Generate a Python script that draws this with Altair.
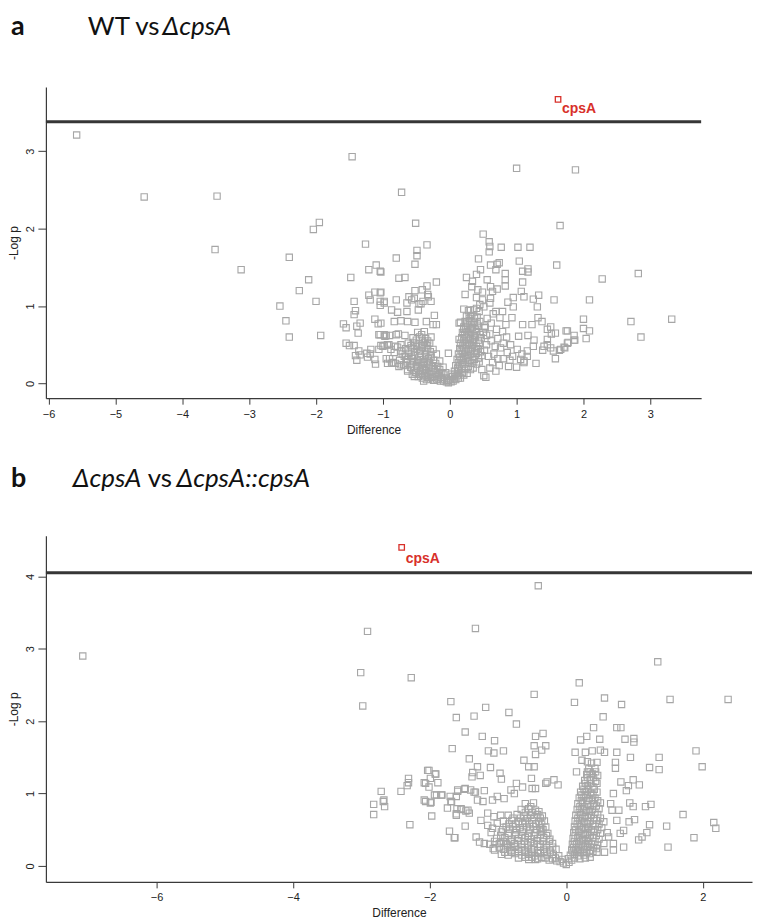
import altair as alt
import pandas as pd

# ---------------- data ----------------
THRESH_A = 3.38
THRESH_B = 4.05
cpsA_a = {"diff": [1.62], "logp": [3.67], "name": ["cpsA"]}
cpsA_b = {"diff": [-2.41], "logp": [4.40], "name": ["cpsA"]}

xticks_a = [-6, -5, -4, -3, -2, -1, 0, 1, 2, 3]
yticks_a = [0, 1, 2, 3]
xticks_b = [-6, -4, -2, 0, 2]
yticks_b = [0, 1, 2, 3, 4]

pts_a = [
    (-5.58, 3.21), (-4.57, 2.41), (-3.48, 2.42), (-3.51, 1.73), (-3.12, 1.47),
    (-1.46, 2.93), (-2.04, 1.99), (-1.95, 2.08), (-1.26, 1.80), (-2.40, 1.63), (-2.11, 1.34),
    (-2.25, 1.20), (-2.54, 1.00), (-2.00, 1.06), (-2.45, 0.81), (-2.40, 0.60), (-1.93, 0.62),
    (-1.48, 1.37), (-1.21, 1.47), (-1.10, 1.53), (-1.04, 1.45), (-1.12, 1.18), (-1.04, 1.17),
    (-1.21, 1.14), (-1.19, 1.08), (-1.43, 1.06), (-1.04, 1.06), (-0.98, 1.06), (-1.04, 1.01),
    (-1.41, 0.94), (-1.43, 0.89), (-1.59, 0.77), (-1.55, 0.72), (-1.39, 0.74), (-1.34, 0.78),
    (-1.12, 0.83), (-1.07, 0.77), (-1.37, 0.65), (-1.04, 0.63), (-0.95, 0.62), (-1.55, 0.52),
    (-1.50, 0.49), (-1.43, 0.49), (-0.98, 0.49), (-0.91, 0.50), (-1.24, 0.39), (-1.36, 0.42),
    (-1.34, 0.37), (-1.41, 0.36), (-1.12, 0.31), (-0.95, 0.32), (-0.90, 0.32), (-1.18, 0.44),
    (-1.19, 0.38), (-1.23, 0.34), (-1.39, 0.30), (-1.11, 0.25), (-1.06, 0.44), (-1.00, 0.48),
    (-0.93, 0.50), (-0.88, 0.44), (-0.83, 0.40), (-0.78, 0.47), (-0.73, 0.42), (-0.68, 0.35),
    (-0.63, 0.31), (-0.66, 0.23), (-0.58, 0.21), (-0.51, 0.14), (-0.43, 0.27), (-0.38, 0.18),
    (-0.31, 0.21), (-0.72, 2.47), (-0.51, 2.07), (-0.34, 1.79), (-0.49, 1.72), (-0.49, 1.65),
    (-0.80, 1.62), (-0.52, 1.54), (-0.76, 1.36), (-0.67, 1.37), (-0.20, 1.31), (-0.34, 1.26),
    (-0.41, 1.21), (-0.52, 1.20), (-0.33, 1.15), (-1.03, 1.44), (-0.80, 1.08), (-0.61, 1.12),
    (-0.53, 1.10), (-0.43, 1.03), (-0.28, 1.06), (-0.32, 1.12), (-0.57, 1.08), (-0.64, 1.04),
    (-0.46, 1.03), (-0.40, 1.06), (-0.87, 0.95), (-0.78, 0.92), (-0.64, 0.93), (-0.47, 0.95),
    (-0.23, 0.88), (-0.98, 1.04), (-1.03, 1.18), (-0.83, 0.80), (-0.73, 0.81), (-0.63, 0.80),
    (-0.52, 0.79), (-0.35, 0.80), (-0.25, 0.76), (-0.20, 0.76), (-1.03, 0.78), (-0.98, 0.63),
    (-0.90, 0.62), (-0.77, 0.64), (-0.67, 0.62), (-1.03, 0.49), (-0.93, 0.50), (-0.81, 0.48),
    (-0.73, 0.50), (-0.93, 0.26), (-0.85, 0.27), (-0.81, 0.26), (-0.73, 0.24), (-0.63, 0.16),
    (-0.53, 0.09), (-0.39, 0.03), (-0.23, 0.04), (-0.02, 0.39), (-0.87, 0.26), (-0.76, 0.22),
    (-0.80, 0.63), (-0.97, 0.61), (-1.06, 0.63), (0.14, 0.78), (0.14, 0.57),
    (1.00, 2.78), (1.88, 2.76), (1.65, 2.04), (0.50, 1.93), (0.59, 1.83), (0.60, 1.77),
    (0.59, 1.70), (0.77, 1.76), (1.02, 1.76), (1.20, 1.76), (0.43, 1.61), (0.74, 1.56),
    (0.71, 1.54), (0.61, 1.53), (1.04, 1.58), (1.60, 1.53), (2.28, 1.35), (2.82, 1.42),
    (3.32, 0.83), (2.71, 0.80), (2.86, 0.60), (2.09, 1.08), (1.56, 1.08), (2.00, 0.83),
    (2.00, 0.71), (2.09, 0.68), (2.04, 0.58), (1.87, 0.56), (1.86, 0.62), (1.76, 0.68),
    (1.58, 0.32), (1.66, 0.44), (1.72, 0.46), (1.76, 0.52), (1.29, 0.26), (1.11, 0.27),
    (1.00, 0.21), (1.06, 0.31), (0.46, 1.47), (0.40, 1.41), (0.69, 1.47), (0.83, 1.42),
    (1.09, 1.45), (1.17, 1.48), (1.17, 1.44), (0.25, 1.37), (0.34, 1.32), (0.33, 1.25),
    (0.56, 1.34), (0.83, 1.34), (0.83, 1.26), (1.09, 1.31), (1.07, 1.19), (1.11, 1.12),
    (0.23, 1.15), (0.42, 1.21), (0.49, 1.18), (0.61, 1.25), (0.64, 1.19), (0.71, 1.22),
    (0.40, 1.11), (0.49, 1.08), (0.61, 1.10), (0.60, 1.04), (0.51, 0.99), (0.45, 1.02),
    (0.95, 1.11), (0.87, 1.05), (0.95, 0.99), (1.25, 1.09), (1.33, 1.14), (1.31, 0.99),
    (0.21, 0.96), (0.31, 0.95), (0.40, 0.97), (0.31, 0.87), (0.16, 0.79), (0.21, 0.70),
    (0.69, 0.93), (0.79, 0.93), (0.75, 0.85), (0.84, 0.76), (0.79, 0.67), (0.93, 0.85),
    (1.09, 0.76), (1.23, 0.76), (1.32, 0.85), (1.38, 0.80), (1.03, 0.61), (1.17, 0.62),
    (1.26, 0.56), (1.25, 0.48), (1.46, 0.70), (1.51, 0.73), (1.58, 0.65), (1.52, 0.64),
    (1.46, 0.57), (1.74, 0.68), (1.86, 0.56), (1.77, 0.53), (1.71, 0.47), (1.64, 0.43),
    (1.41, 0.48), (1.46, 0.50), (1.51, 0.46), (1.55, 0.42), (1.39, 0.43), (1.11, 0.29),
    (0.94, 0.35), (0.86, 0.40), (0.76, 0.46), (0.91, 0.50), (1.01, 0.44), (1.16, 0.42),
    (1.08, 0.38), (1.16, 0.35), (0.51, 0.10), (0.54, 0.08), (0.69, 0.16), (0.74, 0.23),
    (0.64, 0.27), (0.55, 0.62), (0.62, 0.55), (0.68, 0.48), (0.72, 0.58), (0.80, 0.52),
    (0.66, 0.38), (0.58, 0.35), (0.85, 0.60), (0.70, 0.70), (0.62, 0.78), (0.56, 0.84),
    (0.65, 0.90), (0.52, 0.74), (0.90, 0.30), (0.80, 0.32), (0.72, 0.32), (0.60, 0.20),
    (0.48, 0.18), (0.88, 0.22),
]

core_a = [
    (-0.02, 0.01), (0.02, 0.02), (0.05, 0.03), (-0.05, 0.02), (-0.09, 0.03), (0.09, 0.05),
    (-0.14, 0.03), (-0.19, 0.05), (-0.24, 0.04), (-0.29, 0.06), (-0.35, 0.05), (-0.41, 0.07),
    (-0.47, 0.09), (-0.56, 0.12), (-0.45, 0.12), (-0.38, 0.10), (-0.31, 0.11), (-0.22, 0.09),
    (-0.13, 0.08), (-0.05, 0.07), (0.04, 0.09), (0.11, 0.10), (0.16, 0.07),
    (-0.63, 0.18), (-0.53, 0.17), (-0.44, 0.16), (-0.36, 0.17), (-0.27, 0.16), (-0.20, 0.15),
    (-0.12, 0.14), (-0.06, 0.14), (0.07, 0.16), (0.13, 0.17), (0.19, 0.14), (0.26, 0.13),
    (-0.69, 0.24), (-0.59, 0.25), (-0.50, 0.23), (-0.42, 0.24), (-0.34, 0.25), (-0.26, 0.23),
    (-0.18, 0.22), (-0.10, 0.21), (0.09, 0.23), (0.15, 0.24), (0.21, 0.25), (0.28, 0.22),
    (0.35, 0.20), (-0.75, 0.30), (-0.64, 0.31), (-0.56, 0.32), (-0.48, 0.30), (-0.40, 0.31),
    (-0.32, 0.32), (-0.24, 0.30), (-0.15, 0.29), (0.11, 0.31), (0.17, 0.30), (0.24, 0.32),
    (0.30, 0.30), (0.37, 0.31), (0.44, 0.28), (-0.71, 0.38), (-0.61, 0.39), (-0.52, 0.37),
    (-0.44, 0.39), (-0.36, 0.38), (-0.28, 0.37), (-0.20, 0.38), (0.13, 0.38), (0.19, 0.39),
    (0.26, 0.37), (0.32, 0.38), (0.40, 0.39), (0.48, 0.36), (-0.66, 0.45), (-0.57, 0.46),
    (-0.49, 0.44), (-0.41, 0.46), (-0.33, 0.45), (-0.25, 0.44), (0.15, 0.45), (0.21, 0.46),
    (0.28, 0.44), (0.34, 0.46), (0.42, 0.45), (0.52, 0.43), (-0.62, 0.52), (-0.54, 0.53),
    (-0.46, 0.51), (-0.38, 0.53), (-0.30, 0.52), (0.16, 0.52), (0.23, 0.53), (0.29, 0.51),
    (0.36, 0.53), (0.44, 0.52), (0.55, 0.50), (-0.55, 0.59), (-0.45, 0.60), (-0.36, 0.58),
    (-0.28, 0.60), (0.18, 0.59), (0.25, 0.60), (0.31, 0.58), (0.38, 0.60), (0.47, 0.59),
    (-0.48, 0.66), (-0.38, 0.67), (0.19, 0.66), (0.26, 0.67), (0.33, 0.65), (0.40, 0.67),
    (0.50, 0.66), (0.60, 0.64), (0.21, 0.73), (0.27, 0.74), (0.34, 0.72), (0.42, 0.74),
    (0.53, 0.72), (0.23, 0.80), (0.30, 0.81), (0.37, 0.79), (0.45, 0.80), (0.25, 0.87),
    (0.33, 0.88), (0.41, 0.86), (0.28, 0.94), (0.36, 0.95), (0.44, 0.93),
]

core2_a = [
    (-0.11, 0.05), (-0.17, 0.06), (-0.27, 0.08), (-0.33, 0.08), (0.07, 0.06), (0.13, 0.07),
    (0.01, 0.05), (-0.03, 0.04),
    (-0.50, 0.14), (-0.41, 0.13), (-0.34, 0.14), (-0.25, 0.12), (-0.17, 0.11), (-0.09, 0.11),
    (0.02, 0.12), (0.08, 0.12), (0.14, 0.13), (0.21, 0.11),
    (-0.58, 0.21), (-0.48, 0.20), (-0.40, 0.20), (-0.31, 0.20), (-0.23, 0.19), (-0.15, 0.18),
    (0.12, 0.20), (0.18, 0.19), (0.24, 0.19), (0.31, 0.18),
    (-0.64, 0.28), (-0.54, 0.28), (-0.46, 0.27), (-0.38, 0.28), (-0.30, 0.27), (-0.21, 0.26),
    (0.13, 0.27), (0.19, 0.27), (0.26, 0.28), (0.33, 0.26), (0.40, 0.25),
    (-0.66, 0.35), (-0.57, 0.35), (-0.44, 0.34), (-0.36, 0.35), (-0.28, 0.34), (0.15, 0.34),
    (0.21, 0.35), (0.28, 0.34), (0.35, 0.35), (0.43, 0.33),
    (-0.62, 0.42), (-0.53, 0.41), (-0.45, 0.42), (-0.37, 0.42), (-0.29, 0.41), (0.17, 0.42),
    (0.24, 0.42), (0.31, 0.41), (0.38, 0.42), (0.46, 0.41),
    (-0.58, 0.49), (-0.50, 0.48), (-0.42, 0.49), (-0.34, 0.49), (0.19, 0.49), (0.26, 0.49),
    (0.33, 0.49), (0.40, 0.48),
    (-0.50, 0.56), (-0.41, 0.56), (-0.33, 0.55), (0.21, 0.56), (0.28, 0.56), (0.35, 0.56),
    (0.43, 0.56), (0.22, 0.63), (0.29, 0.63), (0.37, 0.62), (0.45, 0.63), (-0.42, 0.63),
    (0.24, 0.70), (0.31, 0.70), (0.38, 0.70), (0.26, 0.77), (0.33, 0.76), (0.41, 0.77),
    (0.29, 0.84), (0.37, 0.84),
]

pts_b = [
    (-7.08, 2.90), (-2.91, 3.24), (-3.01, 2.67), (-2.98, 2.21), (-2.71, 1.03), (-2.82, 0.85),
    (-2.68, 0.89), (-2.66, 0.82), (-2.82, 0.71), (-2.27, 2.60), (-1.69, 2.27), (-1.61, 2.05),
    (-1.67, 1.62), (-2.01, 1.32), (-1.92, 1.27), (-1.88, 1.15), (-2.31, 1.21), (-2.31, 1.15),
    (-2.33, 1.11), (-2.42, 1.03), (-2.06, 1.14), (-2.01, 1.09), (-2.29, 0.57), (-2.06, 0.89),
    (-1.99, 0.87), (-1.97, 0.69), (-1.90, 0.98), (-1.82, 0.98), (-1.70, 0.96), (-1.59, 1.03),
    (-1.68, 0.89), (-1.74, 0.80), (-1.61, 0.72), (-1.54, 0.78), (-1.71, 0.48), (-1.63, 0.39),
    (-0.41, 3.87), (-1.33, 3.28), (1.34, 2.82), (0.19, 2.53), (-0.47, 2.37), (1.52, 2.30),
    (2.37, 2.30), (0.12, 2.26), (0.56, 2.32), (0.81, 2.23), (0.54, 2.06), (0.40, 1.91),
    (0.74, 1.91), (0.80, 1.91), (-1.18, 2.19), (-1.35, 2.07), (-0.84, 2.12), (-0.73, 1.96),
    (-1.48, 1.85), (-1.23, 1.79), (-1.05, 1.73), (-1.14, 1.59), (-1.06, 1.56), (-0.92, 1.59),
    (-1.42, 1.48), (-1.11, 1.36), (-1.30, 1.37), (-1.37, 1.29), (-1.38, 1.23), (-1.26, 1.25),
    (-0.97, 1.28), (-0.95, 1.20), (-0.45, 1.79), (-0.34, 1.83), (-0.47, 1.66), (-0.30, 1.66),
    (-0.36, 1.60), (-0.45, 1.54), (-0.62, 1.46), (-0.55, 1.37), (-0.47, 1.37), (-0.51, 1.21),
    (-0.73, 1.14), (-0.28, 1.16), (-0.18, 1.19), (-0.12, 1.12), (-0.30, 1.14), (-0.64, 1.09),
    (-0.50, 1.07), (-0.45, 1.07), (0.13, 1.57), (0.28, 1.57), (0.38, 1.59), (0.50, 1.60),
    (0.56, 1.57), (0.74, 1.57), (0.21, 1.74), (0.30, 1.79), (0.49, 1.75), (0.86, 1.75),
    (0.99, 1.76), (0.99, 1.71), (0.94, 1.50), (1.36, 1.50), (1.90, 1.59), (1.99, 1.37),
    (1.22, 1.36), (1.36, 1.33), (0.15, 1.30), (0.23, 1.46), (0.31, 1.44), (0.31, 1.30),
    (0.72, 1.43), (0.72, 1.35), (0.80, 1.16), (0.88, 1.04), (0.98, 1.19), (1.07, 1.12),
    (0.91, 1.11), (0.69, 1.00), (0.65, 0.86), (0.67, 0.77), (0.93, 0.87), (0.98, 0.82),
    (1.16, 0.82), (1.24, 0.85), (0.77, 0.77), (0.74, 0.63), (0.84, 0.49), (0.79, 0.45),
    (1.00, 0.64), (0.92, 0.61), (1.22, 0.57), (1.71, 0.71), (1.47, 0.55), (2.16, 0.60),
    (2.19, 0.52), (1.87, 0.39), (1.49, 0.26), (1.18, 0.46), (1.11, 0.40), (1.06, 0.36),
    (0.84, 0.26), (0.69, 0.22), (0.56, 0.19), (0.45, 0.19), (0.35, 0.12), (0.62, 0.40),
    (0.69, 0.31), (-1.49, 1.06), (-1.35, 1.02), (-1.20, 1.04), (-1.61, 0.96), (-1.69, 0.89),
    (-1.54, 0.79), (-1.44, 0.77), (-1.61, 0.70), (-1.48, 0.55), (-1.64, 0.39), (-1.30, 0.91),
    (-1.22, 0.89), (-1.08, 0.91), (-1.01, 0.96), (-0.91, 0.93), (-0.81, 1.05), (-0.76, 1.00),
    (-1.32, 0.40), (-1.27, 0.33), (-1.20, 0.31), (-1.07, 0.24), (-0.96, 0.33), (-0.88, 0.31),
    (-0.81, 0.26), (-1.15, 0.73), (-1.06, 0.68), (-1.15, 0.56), (-1.01, 0.59), (-1.08, 0.52),
    (-1.25, 0.63), (-0.96, 0.70), (-0.55, 0.09), (-0.45, 0.09), (-2.67, 0.91), (-2.08, 1.15),
    (-2.03, 1.32), (-1.99, 1.21), (-1.91, 1.27), (-2.08, 0.91), (-1.98, 0.88), (-1.93, 0.98),
    (-1.83, 0.98), (-1.59, 1.05), (-1.48, 1.07), (-1.40, 1.05), (-1.33, 1.02), (-1.60, 0.79),
    (-1.47, 0.76), (-1.42, 0.73),
]

core_b = [
    (-0.04, 0.04), (0.00, 0.02), (0.04, 0.05), (-0.09, 0.06), (0.08, 0.08), (-0.14, 0.07),
    (-0.20, 0.10), (-0.25, 0.08), (-0.31, 0.11), (-0.36, 0.12),
    (-0.95, 0.16), (-0.85, 0.15), (-0.75, 0.17), (-0.65, 0.15), (-0.55, 0.16), (-0.46, 0.14),
    (-0.38, 0.17), (-0.28, 0.15), (-0.19, 0.16), (-0.11, 0.14), (0.06, 0.15), (0.12, 0.16),
    (0.18, 0.14), (0.26, 0.15), (0.34, 0.17),
    (-1.05, 0.22), (-0.92, 0.23), (-0.81, 0.21), (-0.70, 0.23), (-0.61, 0.22), (-0.51, 0.23),
    (-0.42, 0.21), (-0.33, 0.23), (-0.24, 0.22), (-0.15, 0.23), (0.08, 0.22), (0.14, 0.23),
    (0.20, 0.21), (0.27, 0.23), (0.35, 0.22), (0.44, 0.24),
    (-1.12, 0.30), (-0.98, 0.31), (-0.86, 0.29), (-0.76, 0.31), (-0.66, 0.30), (-0.56, 0.29),
    (-0.47, 0.31), (-0.38, 0.30), (-0.29, 0.29), (-0.20, 0.31), (0.09, 0.30), (0.15, 0.31),
    (0.22, 0.29), (0.29, 0.31), (0.37, 0.30), (0.46, 0.29), (0.55, 0.31),
    (-1.02, 0.38), (-0.90, 0.39), (-0.80, 0.37), (-0.70, 0.38), (-0.60, 0.39), (-0.51, 0.37),
    (-0.42, 0.38), (-0.33, 0.39), (-0.24, 0.37), (0.10, 0.38), (0.17, 0.39), (0.24, 0.37),
    (0.31, 0.38), (0.39, 0.39), (0.48, 0.37),
    (-1.10, 0.46), (-0.95, 0.47), (-0.84, 0.45), (-0.74, 0.46), (-0.64, 0.47), (-0.55, 0.45),
    (-0.45, 0.46), (-0.36, 0.47), (-0.27, 0.45), (0.11, 0.46), (0.18, 0.47), (0.25, 0.45),
    (0.32, 0.46), (0.40, 0.47), (0.50, 0.45), (0.60, 0.46),
    (-0.88, 0.54), (-0.78, 0.55), (-0.68, 0.53), (-0.58, 0.54), (-0.48, 0.55), (-0.38, 0.53),
    (-0.30, 0.54), (0.12, 0.54), (0.19, 0.55), (0.26, 0.53), (0.33, 0.54), (0.42, 0.55),
    (0.52, 0.53),
    (-0.92, 0.62), (-0.80, 0.63), (-0.70, 0.61), (-0.60, 0.62), (-0.50, 0.63), (-0.40, 0.61),
    (-0.32, 0.62), (0.13, 0.62), (0.20, 0.63), (0.27, 0.61), (0.35, 0.62), (0.44, 0.63),
    (0.55, 0.61),
    (-0.85, 0.70), (-0.72, 0.71), (-0.62, 0.69), (-0.52, 0.70), (-0.42, 0.71), (-0.35, 0.69),
    (0.14, 0.70), (0.21, 0.71), (0.28, 0.69), (0.36, 0.70), (0.46, 0.71),
    (-0.66, 0.78), (-0.55, 0.79), (-0.45, 0.77), (0.16, 0.78), (0.23, 0.79), (0.30, 0.77),
    (0.38, 0.78), (0.48, 0.79),
    (-0.60, 0.86), (-0.48, 0.87), (0.17, 0.86), (0.24, 0.87), (0.32, 0.85), (0.40, 0.86),
    (0.50, 0.87),
    (0.19, 0.94), (0.26, 0.95), (0.34, 0.93), (0.42, 0.94),
    (0.21, 1.02), (0.28, 1.03), (0.36, 1.01), (0.45, 1.02),
    (0.24, 1.10), (0.31, 1.11), (0.39, 1.09),
    (0.27, 1.18), (0.35, 1.19), (0.43, 1.17),
    (0.30, 1.26), (0.38, 1.27), (0.46, 1.25),
    (0.33, 1.34), (0.42, 1.35),
    (0.37, 1.42), (0.45, 1.43),
]

core2_b = [
    (-0.42, 0.10), (-0.50, 0.12), (-0.60, 0.12), (-0.70, 0.11), (-0.16, 0.11), (-0.06, 0.09),
    (0.03, 0.10), (0.12, 0.11), (0.20, 0.10), (0.28, 0.11),
    (-0.90, 0.19), (-0.80, 0.19), (-0.70, 0.20), (-0.60, 0.19), (-0.50, 0.19), (-0.41, 0.18),
    (-0.32, 0.19), (-0.23, 0.19), (0.10, 0.19), (0.16, 0.19), (0.23, 0.18), (0.30, 0.19),
    (0.39, 0.20),
    (-0.98, 0.26), (-0.86, 0.26), (-0.75, 0.27), (-0.65, 0.26), (-0.56, 0.26), (-0.47, 0.25),
    (-0.38, 0.27), (-0.29, 0.26), (-0.20, 0.26), (0.11, 0.26), (0.18, 0.26), (0.25, 0.26),
    (0.32, 0.27), (0.40, 0.26),
    (-1.05, 0.34), (-0.92, 0.34), (-0.81, 0.34), (-0.71, 0.35), (-0.61, 0.34), (-0.52, 0.33),
    (-0.43, 0.35), (-0.34, 0.34), (-0.25, 0.34), (0.12, 0.34), (0.19, 0.34), (0.26, 0.35),
    (0.33, 0.34), (0.42, 0.34),
    (-0.96, 0.42), (-0.85, 0.42), (-0.75, 0.43), (-0.65, 0.42), (-0.56, 0.41), (-0.47, 0.42),
    (-0.38, 0.43), (-0.29, 0.42), (0.13, 0.42), (0.20, 0.42), (0.28, 0.43), (0.35, 0.42),
    (0.44, 0.42),
    (-0.93, 0.50), (-0.83, 0.51), (-0.73, 0.50), (-0.63, 0.50), (-0.53, 0.51), (-0.43, 0.50),
    (-0.34, 0.50), (0.14, 0.50), (0.22, 0.50), (0.29, 0.51), (0.37, 0.50), (0.46, 0.50),
    (-0.84, 0.58), (-0.74, 0.58), (-0.64, 0.59), (-0.54, 0.58), (-0.44, 0.58), (-0.36, 0.58),
    (0.16, 0.58), (0.23, 0.59), (0.31, 0.58), (0.39, 0.58), (0.48, 0.58),
    (-0.78, 0.66), (-0.67, 0.66), (-0.57, 0.66), (-0.47, 0.67), (-0.38, 0.66), (0.17, 0.66),
    (0.24, 0.66), (0.32, 0.67), (0.40, 0.66), (0.50, 0.66),
    (-0.60, 0.74), (-0.50, 0.74), (-0.40, 0.75), (0.19, 0.74), (0.26, 0.74), (0.34, 0.75),
    (0.42, 0.74),
    (0.20, 0.82), (0.27, 0.82), (0.35, 0.82), (0.44, 0.83), (-0.52, 0.82),
    (0.22, 0.90), (0.30, 0.90), (0.38, 0.91), (0.46, 0.90),
    (0.23, 0.98), (0.31, 0.98), (0.39, 0.98),
    (0.26, 1.06), (0.33, 1.06), (0.41, 1.06),
    (0.28, 1.14), (0.36, 1.14), (0.45, 1.14),
    (0.31, 1.22), (0.40, 1.22),
    (0.35, 1.30), (0.43, 1.30),
]

# ---------------- styling ----------------
GRAY = "#a6a6a6"
RED = "#d8302a"
AXIS_FONT = "Liberation Sans"
TITLE_FONT = "Lato"
LABEL_FONT = "Liberation Sans Narrow, Arial Narrow, Liberation Sans"


def frame(pairs):
    return pd.DataFrame(pairs, columns=["diff", "logp"])


def panel(points, cps, thresh, xdom, ydom, xticks, yticks, w, h,
          letter, title_parts, title_y, label_dy):
    x = alt.X("diff:Q",
              scale=alt.Scale(domain=xdom, nice=False, zero=False),
              axis=alt.Axis(values=xticks, title="Difference", tickSize=6,
                            labelPadding=4, titlePadding=5, format="d"))
    y = alt.Y("logp:Q",
              scale=alt.Scale(domain=ydom, nice=False, zero=False),
              axis=alt.Axis(values=yticks, title="-Log p", labelAngle=270,
                            tickSize=8, labelPadding=2, titlePadding=4,
                            labelAlign="center", labelBaseline="bottom", format="d"))

    pts = alt.Chart(frame(points)).mark_point(
        shape="square", filled=False, color=GRAY, size=40, strokeWidth=1.1, opacity=1
    ).encode(x=x, y=y)

    rule = alt.Chart(pd.DataFrame({"logp": [thresh]})).mark_rule(
        color="#363636", strokeWidth=3
    ).encode(y="logp:Q")

    cdf = pd.DataFrame(cps)
    cpt = alt.Chart(cdf).mark_point(
        shape="square", filled=False, color=RED, size=30, strokeWidth=1.3, opacity=1
    ).encode(x="diff:Q", y="logp:Q")
    clab = alt.Chart(cdf).mark_text(
        color=RED, font=LABEL_FONT, fontSize=14, fontWeight="bold",
        align="left", baseline="alphabetic", dx=4, dy=label_dy
    ).encode(x="diff:Q", y="logp:Q", text="name:N")

    one = pd.DataFrame({"k": [0]})
    layers = [rule, pts, cpt, clab]
    layers.append(alt.Chart(one).mark_text(
        text=letter, font=TITLE_FONT, fontSize=27, fontWeight="bold",
        align="left", baseline="alphabetic", color="#111"
    ).encode(x=alt.value(-35), y=alt.value(title_y)))
    for txt, xpos, italic in title_parts:
        layers.append(alt.Chart(one).mark_text(
            text=txt, font=TITLE_FONT, fontSize=26,
            fontStyle="italic" if italic else "normal",
            align="left", baseline="alphabetic", color="#111"
        ).encode(x=alt.value(xpos), y=alt.value(title_y)))

    return alt.layer(*layers).properties(width=w, height=h)


panel_a = panel(
    pts_a + core_a + core2_a, cpsA_a, THRESH_A,
    [-6.04, 3.76], [-0.19, 3.83], xticks_a, yticks_a, 657, 312,
    "a", [("WT vs", 42, False), ("\u0394cpsA", 117, True)], -52, 14,
)

panel_b = panel(
    pts_b + core_b + core2_b, cpsA_b, THRESH_B,
    [-7.62, 2.72], [-0.22, 4.56], xticks_b, yticks_b, 708, 347,
    "b", [("\u0394cpsA", 27, True), ("vs", 102, False), ("\u0394cpsA::cpsA", 131, True)], -49, 16,
)

chart = alt.vconcat(panel_a, panel_b, spacing=30).properties(
    padding={"top": 4, "left": 0, "right": 0, "bottom": 0}
).configure_view(stroke=None).configure_axis(
    grid=False,
    domainColor="#3a3a3a",
    tickColor="#3a3a3a",
    domainWidth=1.2,
    labelFont=AXIS_FONT,
    labelFontSize=11,
    labelColor="#222",
    titleFont=AXIS_FONT,
    titleFontSize=12,
    titleFontWeight="normal",
    titleColor="#222",
)

chart.save("out.html", embed_options={"renderer": "svg", "actions": False})
